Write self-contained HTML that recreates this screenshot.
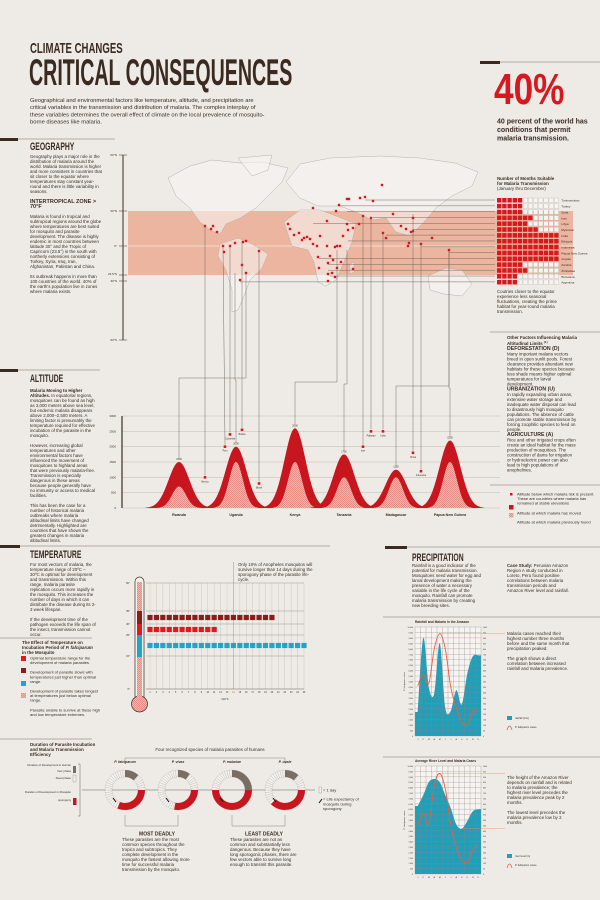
<!DOCTYPE html>
<html><head><meta charset="utf-8">
<style>
html,body{margin:0;padding:0;background:#eeebe7;}
#root{position:relative;width:600px;height:900px;overflow:hidden;background:#eeebe7;font-family:"Liberation Sans",sans-serif;color:#3a2c24;}
.t{position:absolute;font-size:8.8px;line-height:10px;color:#3a2c24;transform:scale(0.5);transform-origin:0 0;z-index:2;}
.t b{font-weight:bold;}
.h{position:absolute;font-family:"Liberation Sans Narrow","Liberation Sans",sans-serif;font-weight:bold;color:#3a2a20;transform-origin:0 0;white-space:nowrap;z-index:2;}
svg{position:absolute;left:0;top:0;}
</style></head>
<body>
<div id="root">
<svg id="svg" width="600" height="900" viewBox="0 0 600 900">
<defs>
<pattern id="hatch" width="2" height="2" patternUnits="userSpaceOnUse"><rect width="2" height="2" fill="#f0b7ac"/><rect width="1" height="1" fill="#e48d83"/><rect x="1" y="1" width="1" height="1" fill="#e48d83"/></pattern>
</defs>
<g fill="#3a2a20" stroke="#7b6a60">
<rect x="480" y="61" width="20" height="3" stroke="none"/><line x1="500" y1="62" x2="600" y2="62" stroke-width="0.6"/>
<rect x="0" y="138" width="18" height="3" stroke="none"/><line x1="18" y1="139" x2="115" y2="139" stroke-width="0.6"/>
<rect x="0" y="369" width="18" height="3" stroke="none"/><line x1="18" y1="370" x2="100" y2="370" stroke-width="0.6"/>
<rect x="0" y="545" width="20" height="3" stroke="none"/><line x1="20" y1="546" x2="330" y2="546" stroke-width="0.6"/>
<rect x="385" y="546" width="22" height="3" stroke="none"/><line x1="407" y1="547" x2="600" y2="547" stroke-width="0.6"/>
<line x1="0" y1="638" x2="92" y2="638" stroke-width="0.6"/>
<line x1="0" y1="739" x2="92" y2="739" stroke-width="0.6"/>
<line x1="490" y1="332" x2="600" y2="332" stroke-width="0.6"/>
<line x1="490" y1="485" x2="600" y2="485" stroke-width="0.6"/>
<line x1="383" y1="617" x2="600" y2="617" stroke-width="0.5"/>
<line x1="383" y1="757" x2="600" y2="757" stroke-width="0.5"/>
</g>
<g id="map">
<rect x="128" y="211" width="445" height="64" fill="#ebb59f"/>
<line x1="128" y1="246" x2="573" y2="246" stroke="#f6dcd0" stroke-width="1"/>
<g fill="#f7f4f1" fill-opacity="0.6" stroke="#b9b0a8" stroke-width="0.5">
<polygon points="168,178 190,166 212,160 240,163 262,162 288,168 282,182 268,196 256,208 240,218 226,224 220,234 210,230 200,222 190,208 176,196"/>
<polygon points="238,158 272,155 268,170 252,176"/>
<polygon points="220,244 238,238 252,244 268,254 262,268 250,280 244,296 238,310 232,312 232,290 226,270 218,256"/>
<polygon points="286,182 300,164 330,158 380,156 420,158 455,163 478,172 472,186 452,196 436,208 424,222 410,236 396,232 386,218 372,220 356,212 340,206 318,206 300,198"/>
<polygon points="284,222 300,210 320,210 336,216 356,224 352,242 344,262 336,280 326,286 318,282 314,262 308,250 292,246"/>
<polygon points="428,276 446,268 462,270 472,284 462,296 444,294 430,290"/>
<polygon points="350,264 354,262 354,272 350,274"/>
</g>
<g stroke="#5a4a40" stroke-width="1.2"><line x1="123" y1="155" x2="123" y2="340"/></g>
<g stroke="#5a4a40" stroke-width="0.6"><line x1="119" y1="155" x2="127" y2="155"/><line x1="119" y1="211" x2="127" y2="211"/><line x1="119" y1="246" x2="127" y2="246"/><line x1="119" y1="275" x2="127" y2="275"/><line x1="119" y1="281" x2="127" y2="281"/><line x1="119" y1="340" x2="127" y2="340"/></g>
<g font-size="3" fill="#3a2c24" text-anchor="end" font-family="Liberation Sans,sans-serif">
<text x="117" y="156">60°N</text><text x="117" y="212">30°N</text><text x="117" y="247">0°</text><text x="117" y="275">23.5°S</text><text x="117" y="282">30°S</text><text x="117" y="341">60°S</text></g>
<g id="leaders" stroke="#6b5d55" stroke-width="0.45" fill="none"></g>
<g id="dots" fill="#d7191f"></g>
<g id="months"></g>
</g>
<g id="alt"></g>
<g id="temp"></g>
<g id="para"></g>
<g id="rain"></g>
<g id="river"></g>
</svg>

<div class="h" style="left:30px;top:40px;font-size:15px;transform:scaleX(0.64);">CLIMATE CHANGES</div>
<div class="h" style="left:29px;top:54px;font-size:37px;line-height:38px;transform:scaleX(0.53);">CRITICAL CONSEQUENCES</div>
<div class="t" style="left:30px;top:97px;width:470px;font-size:11.6px;line-height:14.4px;">Geographical and environmental factors like temperature, altitude, and precipitation are critical variables in the transmission and distribution of malaria. The complex interplay of these variables determines the overall effect of climate on the local prevalence of mosquito-borne diseases like malaria.</div>
<div class="h" style="left:494px;top:66px;font-size:44px;color:#d7191f;line-height:48px;font-family:'Liberation Sans',sans-serif;transform:scaleX(0.8);">40%</div>
<div class="t" style="left:497px;top:117px;width:190px;font-size:14px;line-height:16.8px;font-weight:bold;">40 percent of the world has conditions that permit malaria transmission.</div>

<div class="h" style="left:30px;top:141px;font-size:11px;transform:scaleX(0.62);">GEOGRAPHY</div>
<div class="t" style="left:30px;top:154px;width:144px;">Geography plays a major role in the distribution of malaria around the world. Malaria transmission is higher and more consistent in countries that sit closer to the equator where temperatures stay constant year-round and there is little variability in seasons.<br><br><b style="font-size:11px">INTERTROPICAL ZONE &gt; 70°F</b><br><br>Malaria is found in tropical and subtropical regions around the globe where temperatures are best suited for mosquito and parasite development. The disease is highly endemic in most countries between latitude 30° and the Tropic of Capricorn (23.5°) in the south with northerly extensions consisting of Turkey, Syria, Iraq, Iran, Afghanistan, Pakistan and China.<br><br>Its outbreak happens in more than 100 countries of the world. 40% of the earth's population live in zones where malaria exists.</div>

<div class="t" style="left:497px;top:176px;width:120px;"><b>Number of Months Suitable for Malaria Transmission</b><br>(January thru December)</div>
<div class="t" style="left:497px;top:289px;width:124px;">Coutries closer to the equator experience less seasonal fluctuations, creating the prime habitat for year-round malaria transmission.</div>
<div class="t" style="left:507px;top:335px;width:140px;"><b>Other Factors Influencing Malaria Altitudinal Limits <sup style="font-size:6px">(1)</sup></b><br><b style="font-size:10.4px">DEFORESTATION (D)</b><br>Many important malaria vectors breed in open sunlit pools. Forest clearance provides abundant new habitats for these species because less shade means higher optimal temperatures for larval development.<br><b style="font-size:10.4px">URBANIZATION (U)</b><br>In rapidly expanding urban areas, extensive water storage and inadequate water disposal can lead to disastrously high mosquito populations. The absence of cattle can promote stable transmission by forcing zoophilic species to feed on people.<br><b style="font-size:10.4px">AGRICULTURE (A)</b><br>Rice and other irrigated crops often create an ideal habitat for the mass production of mosquitoes. The construction of dams for irrigation or hydroelectric power can also lead to high populations of anophelines.</div>
<div class="t" style="left:517px;top:492px;width:160px;font-size:8px;line-height:9.2px;">Altitude below which malaria risk is present. These are countries where malaria has remained at stable elevations<br><div style="height:10px"></div>Altitude at which malaria has moved<br><div style="height:9px"></div>Altitude at which malaria previously found</div>

<div class="h" style="left:30px;top:373px;font-size:11px;transform:scaleX(0.62);">ALTITUDE</div>
<div class="t" style="left:30px;top:388px;width:132px;"><b>Malaria Moving to Higher Altitudes.</b> In equatorial regions, mosquitoes can be found as high as 3,000 meters above sea level, but endemic malaria disappears above 2,000–2,500 meters. A limiting factor is presumably the temperature required for effective incubation of the parasite in the mosquito.<br><br>However, increasing global temperatures and other environmental factors have influenced the movement of mosquitoes to highland areas that were previously malaria-free. Transmission is especially dangerous in these areas because people generally have no immunity or access to medical facilities.<br><br>This has been the case for a number of historical malaria outbreaks where malaria altitudinal limits have changed detrimentally. Highlighted are countries that have shown the greatest changes in malaria altitudinal limits.</div>

<div class="h" style="left:30px;top:549px;font-size:11px;transform:scaleX(0.62);">TEMPERATURE</div>
<div class="t" style="left:30px;top:562px;width:132px;">For most vectors of malaria, the temperature range of 20ºC – 30ºC is optimal for development and transmission. Within this range, malaria parasite replication occurs more rapidly in the mosquito. This increases the number of days in which it can distribute the disease during its 2-3 week lifespan.<br><br>If the development time of the pathogen exceeds the life span of the insect, transmission cannot occur.</div>
<div class="t" style="left:22px;top:640px;width:150px;"><b>The Effect of Temperature on Incubation Period of <i>P. falciparum</i> in the Mosquito</b></div>
<div class="t" style="left:30px;top:656px;width:144px;font-size:8px;line-height:9.2px;">Optimal temperature range for the development of malaria parasites.<div style="height:10px"></div>Development of parasite slows with temperatures just higher than optimal range.<div style="height:10px"></div>Development of parasite takes longest at temperatures just below optimal range.<div style="height:10px"></div>Parasite unable to survive at these high and low temperature extremes.</div>
<div class="t" style="left:238px;top:562px;width:164px;">Only 10% of Anopheles mosquitos will survive longer than 14 days during the sporogony phase of the parasite life-cycle.</div>

<div class="t" style="left:30px;top:742px;width:132px;"><b>Duration of Parasite Incubation and Malaria Transmission Efficiency</b></div>
<div class="t" style="left:150px;top:747px;width:240px;text-align:center;">Four recognized species of malaria parasites of humans</div>
<div class="t" style="left:122px;top:832px;width:140px;"><div style="text-align:center;font-weight:bold;font-size:10px">MOST DEADLY</div>These parasites are the most common species throughout the tropics and subtropics. They complete development in the mosquito the fastest allowing more time for successful malaria transmission by the mosquito.</div>
<div class="t" style="left:230px;top:832px;width:136px;"><div style="text-align:center;font-weight:bold;font-size:10px">LEAST DEADLY</div>These parasites are not as common and substantially less dangerous. Because they have long sporogonic phases, there are few vectors able to survive long enough to transmit this parasite.</div>
<div class="t" style="left:323px;top:788px;width:80px;font-size:8px;line-height:9.2px;">= 1 day<br><br>= Life expectancy of mosquito during sporogony</div>

<div class="h" style="left:412px;top:552px;font-size:11px;transform:scaleX(0.62);">PRECIPITATION</div>
<div class="t" style="left:412px;top:563px;width:140px;">Rainfall is a good indicator of the potential for malaria transmission. Mosquitoes need water for egg and larval development making the presence of water a necessary variable in the life cycle of the mosquito. Rainfall can promote malaria transmission by creating new breeding sites.</div>
<div class="t" style="left:507px;top:563px;width:130px;"><b>Case Study:</b> Peruvian Amazon Region A study conducted in Loreto, Peru found positive correlations between malaria transmission periods and Amazon River level and rainfall.</div>
<div class="t" style="left:507px;top:631px;width:132px;">Malaria cases reached their highest number three months before and the same month that precipitation peaked.<br><br>The graph shows a direct correlation between increased rainfall and malaria prevalence.</div>
<div class="t" style="left:507px;top:775px;width:132px;">The height of the Amazon River depends on rainfall and is related to malaria prevalence; the highest river level precedes the malaria prevalence peak by 2 months.<br><br>The lowest level precedes the malaria prevalence low by 2 months.</div>
</div>

<script>
const NS='http://www.w3.org/2000/svg';
function mk(parent,tag,attrs,text){const e=document.createElementNS(NS,tag);for(const k in attrs)e.setAttribute(k,attrs[k]);if(text!==undefined)e.textContent=text;parent.appendChild(e);return e;}

const mapDots=[[205,226],[211,229],[213,226],[217,232],[223,246],[224,252],[230,246],[235,243],[243,242],[246,241],[259,251],[242,265],[246,273],[240,280],[288,224],[290,229],[294,235],[299,233],[302,240],[304,238],[307,237],[310,239],[313,208],[313,244],[317,246],[320,236],[327,221],[327,246],[318,257],[319,268],[328,263],[330,256],[333,260],[335,247],[337,246],[340,246],[343,236],[347,224],[348,230],[353,228],[359,224],[336,211],[339,205],[347,199],[349,199],[360,198],[365,197],[373,201],[382,185],[363,216],[371,218],[383,233],[386,238],[393,214],[401,226],[406,229],[413,218],[411,232],[413,231],[409,243],[408,246],[421,244],[432,238],[449,250],[353,269],[332,273],[337,268],[328,274],[328,281],[335,277],[341,262]];
const countries=['Turkmenistan','Turkey','Syria','Iran','Libya','Myanmar','India','Ethiopia','Indonesia','Papua New Guinea','Angola','Zambia','Zimbabwe','Botswana','Argentina'];
const monthsSuitable=[5,5,5,7,6,8,12,12,12,12,12,5,6,4,4];
const countryDotX=[365,339,347,373,313,413,386,348,421,449,319,328,328,330,240];

const dotsG=document.getElementById('dots');
mapDots.forEach(d=>{const c=mk(dotsG,'rect',{x:d[0]-1.2,y:d[1]-1.2,width:2.4,height:2.4});

});

const leadG=document.getElementById('leaders');
const mG=document.getElementById('months');
const rowY0=198,rowH=5.85,cellX0=497,cellW=5.2;
countries.forEach((c,i)=>{
  const y=rowY0+i*rowH;
  mk(leadG,'line',{x1:countryDotX[i],y1:y+2,x2:495,y2:y+2});
  for(let m=0;m<12;m++){
    const r=mk(mG,'rect',{x:cellX0+m*cellW,y:y,width:cellW-0.8,height:rowH-1.3,fill:m<monthsSuitable[i]?'#d7191f':'#f6f3f0',stroke:m<monthsSuitable[i]?'none':'#b8b0a8','stroke-width':0.3});
    
    
  }
  const t=mk(mG,'text',{x:cellX0+12*cellW+2,y:y+3.7,'font-size':3,fill:'#3a2c24','font-family':'Liberation Sans,sans-serif'},c);
  
  
});

const altCountries=['Rwanda','Uganda','Kenya','Tanzania','Madagascar','Papua New Guinea'];
const altNow=[1500,2000,2600,1750,1250,2200];
const altBefore=[700,1500,1500,1000,1000,1500];
const altTicks=[0,500,1000,1500,2000,2500,3000];
const stableNames=['Mexico','Peru','Colombia','Bolivia','Brazil','Iran','Pakistan','India','China','Indonesia'];
const stableAlt=[1000,2000,2400,2550,800,2000,2500,2500,1800,1200];
const mapSrcX=[205,223,230,242,259,363,371,383,413,421];
const mapSrcY=[226,246,246,241,251,216,218,233,214,244];
const peakSrcX=[246,235,337,347,449,449];

const AX0=122,AX1=500,AY0=508,AY1=416;
const ay=v=>AY0-(v/3000)*(AY0-AY1);
const peakX=[179,236,295,344,396,450];
const stableX=[205,225,230,242,259,363,371,383,413,421];
const altG=document.getElementById('alt');
altTicks.forEach(v=>{
  mk(altG,'line',{x1:AX0,y1:ay(v),x2:AX1,y2:ay(v),stroke:'#b5aca4','stroke-width':0.4});
  mk(altG,'text',{x:AX0-6,y:ay(v)+1,'font-size':3,'text-anchor':'end',fill:'#3a2c24'},v);
});
mk(altG,'line',{x1:AX0,y1:AY1,x2:AX0,y2:AY0,stroke:'#3a2a20','stroke-width':1.2});
function bell(cx,h,sig){let d=`M${cx-3.2*sig},${AY0}`;for(let i=-32;i<=32;i++){const x=cx+i*sig/10;const v=h*Math.exp(-Math.pow(i/10,2)/2);d+=` L${x.toFixed(2)},${ay(v).toFixed(2)}`;}return d+` L${cx+3.2*sig},${AY0} Z`;}
altCountries.forEach((n,i)=>{
  mk(altG,'polyline',{points:`${peakSrcX[i]},${i<2?273:250} ${peakSrcX[i]},${378+i*2} ${peakX[i]},${378+i*2} ${peakX[i]},${ay(altNow[i])-4}`,fill:'none',stroke:'#6b5d55','stroke-width':0.45});
  const p=mk(altG,'path',{d:bell(peakX[i],altNow[i],10.5),fill:'#c8161e'});
  
  
  const q=mk(altG,'path',{d:bell(peakX[i],altBefore[i],7),fill:'url(#hatch)'});
  
  
  mk(altG,'text',{x:peakX[i],y:ay(altNow[i])-2,'font-size':2.5,'text-anchor':'middle',fill:'#3a2c24'},altNow[i]);
  mk(altG,'text',{x:peakX[i],y:AY0+8,'font-size':3.6,'text-anchor':'middle','font-weight':'bold',fill:'#3a2c24'},n);
});
stableNames.forEach((n,i)=>{
  mk(altG,'line',{x1:mapSrcX[i],y1:mapSrcY[i],x2:stableX[i],y2:ay(stableAlt[i])-2,stroke:'#6b5d55','stroke-width':0.45});
  const r=mk(altG,'rect',{x:stableX[i]-1.3,y:ay(stableAlt[i])-1.3,width:2.6,height:2.6,fill:'#d7191f'});
  
  
  mk(altG,'text',{x:stableX[i],y:ay(stableAlt[i])+5,'font-size':2.3,'text-anchor':'middle',fill:'#3a2c24'},n);
});
mk(altG,'rect',{x:510,y:493,width:2.5,height:2.5,fill:'#d7191f'});
mk(altG,'rect',{x:509,y:505,width:4.5,height:4.5,fill:'#c8161e'});
mk(altG,'rect',{x:509,y:513,width:4.5,height:4.5,fill:'url(#hatch)'});

const tempTicks=[0,15,25,30,35,50];
const dayLabels=[1,2,3,4,5,6,7,8,9,10,11,12,13,14,15,16,17,18,19,20,21,22,23,24,25];
const tempRowsTemp=[32.5,27.5,20];
const tempRowsDays=[20,11,25];
const tempRowsColor=['#8e1a1c','#e0191f','#1ea4cf'];
const TY=t=>{const m={0:689,15:656,25:635,30:624,35:611,50:583};return m[t]!==undefined?m[t]:null;};
function ty(t){const ks=[0,15,25,30,35,50];for(let i=0;i<ks.length-1;i++){if(t>=ks[i]&&t<=ks[i+1]){const a=TY(ks[i]),b=TY(ks[i+1]);return a+(b-a)*(t-ks[i])/(ks[i+1]-ks[i]);}}return 689;}
const tx=d=>150+(d-1)*(304-150)/24;
const tG=document.getElementById('temp');
dayLabels.forEach(d=>{mk(tG,'line',{x1:tx(d),y1:583,x2:tx(d),y2:689,stroke:d==14?'#f08a6a':'#c4bcb5','stroke-width':d==14?0.6:0.4});mk(tG,'text',{x:tx(d),y:693,'font-size':2.3,'text-anchor':'middle',fill:d==14?'#e05a3a':'#3a2c24'},d);});
mk(tG,'line',{x1:tx(14),y1:562,x2:tx(14),y2:583,stroke:'#f08a6a','stroke-width':0.6});
tempTicks.forEach(t=>{mk(tG,'line',{x1:146,y1:ty(t),x2:304,y2:ty(t),stroke:t==0?'#6b5d55':'#a0968f','stroke-width':t==0?0.6:0.5});mk(tG,'text',{x:130,y:ty(t)+1,'font-size':2.6,'text-anchor':'end',fill:'#3a2c24'},t+'°');});
mk(tG,'text',{x:225,y:700,'font-size':2.6,'text-anchor':'middle',fill:'#3a2c24'},'DAYS');
tempRowsTemp.forEach((t,r)=>{for(let d=1;d<=tempRowsDays[r];d++){const s=mk(tG,'rect',{x:tx(d)-2.6,y:ty(t)-2.6,width:5.2,height:5.2,fill:tempRowsColor[r]});}});
mk(tG,'rect',{x:135,y:577,width:9,height:126,rx:4.5,fill:'#f3efeb',stroke:'#3a2a20','stroke-width':0.7});
mk(tG,'circle',{cx:139.5,cy:704,r:8,fill:'url(#hatch)',stroke:'#3a2a20','stroke-width':0.7});
mk(tG,'rect',{x:137,y:582,width:5,height:120,fill:'url(#hatch)'});
mk(tG,'rect',{x:137,y:ty(35),width:5,height:ty(30)-ty(35),fill:'#8e1a1c'});
mk(tG,'rect',{x:137,y:ty(30),width:5,height:ty(25)-ty(30),fill:'#e0191f'});
mk(tG,'rect',{x:137,y:ty(25),width:5,height:ty(15)-ty(25)+1,fill:'#1ea4cf'});
[['#e0191f',656],['#8e1a1c',668],['#1ea4cf',681],['url(#hatch)',693]].forEach(a=>mk(tG,'rect',{x:21,y:a[1],width:5,height:5,fill:a[0]}));

const species=['P. falciparum','P. vivax','P. malariae','P. ovale'];
const humanDays=[14,12,30,14];
const mosquitoDays=[10,9,16,12];
const pX=[125,178,232,285],PY=790;
const pG=document.getElementById('para');
mk(pG,'polyline',{points:`125,764 125,758 285,758 285,764`,fill:'none',stroke:'#8a7f78','stroke-width':0.5});
mk(pG,'polyline',{points:`125,815 125,826 178,826 178,815`,fill:'none',stroke:'#8a7f78','stroke-width':0.5});
mk(pG,'polyline',{points:`232,815 232,826 285,826 285,815`,fill:'none',stroke:'#8a7f78','stroke-width':0.5});
mk(pG,'line',{x1:82,y1:PY,x2:315,y2:PY,stroke:'#6b5d55','stroke-width':0.6});
mk(pG,'polyline',{points:`78,764 80,764 80,816 78,816`,fill:'none',stroke:'#6b5d55','stroke-width':0.5});
function arc(cx,cy,r0,r1,a0,a1){const p=(r,a)=>[cx+r*Math.sin(a),cy-r*Math.cos(a)];const L=a1-a0>Math.PI?1:0;const A=p(r1,a0),B=p(r1,a1),C=p(r0,a1),D=p(r0,a0);return `M${A} A${r1},${r1} 0 ${L} 1 ${B} L${C} A${r0},${r0} 0 ${L} 0 ${D} Z`;}
species.forEach((s,i)=>{
  const cx=pX[i];const seg=2*Math.PI/48;
  for(let k=0;k<48;k++)mk(pG,'path',{d:arc(cx,PY,13,20,k*seg,(k+1)*seg),fill:'#f4f1ee',stroke:'#a59c95','stroke-width':0.25});
  const h=mk(pG,'path',{d:arc(cx,PY,13,20,0,Math.PI*humanDays[i]/30*0.5+0.001),fill:'#7a6d64'});
  
  
  const m=mk(pG,'path',{d:arc(cx,PY,13,20,Math.PI/2,Math.PI/2+Math.PI*mosquitoDays[i]/16),fill:'#c8161e'});
  
  
  mk(pG,'line',{x1:cx-12,y1:PY+8,x2:cx-9,y2:PY+12,stroke:'#111','stroke-width':1});
  mk(pG,'text',{x:cx,y:763,'font-size':3.5,'text-anchor':'middle','font-style':'italic','font-weight':'bold',fill:'#3a2c24'},s);
});
[['Duration of Development in Human',766],['liver phase',772],['blood phase',779],['Duration of Development in Mosquito',793],['sporogony',801]].forEach(a=>mk(pG,'text',{x:71,y:a[1],'font-size':2.8,'text-anchor':'end',fill:'#3a2c24'},a[0]));
mk(pG,'rect',{x:73,y:766,width:3,height:7,fill:'#7a6d64'});
mk(pG,'rect',{x:73,y:775,width:3,height:7,fill:'#eee',stroke:'#7a6d64','stroke-width':0.3});
mk(pG,'rect',{x:73,y:798,width:3.5,height:7,fill:'#c8161e'});
mk(pG,'rect',{x:319,y:787,width:2.5,height:6,fill:'#f4f1ee',stroke:'#7a6d64','stroke-width':0.3});
mk(pG,'line',{x1:319,y1:803,x2:322,y2:799,stroke:'#111','stroke-width':1});

const monthLabels=['J','F','M','A','M','J','J','A','S','O','N','D'];
const rainfall=[22,90,45,39,85,26,23,42,29,57,73,74];
const rainCases=[46,57,48,80,94,80,45,26,13,10,22,23];
const riverLevel=[63,73,85,88,85,73,61,46,42,49,58,60];
const riverCases=[45,57,46,82,93,79,46,25,13,11,22,28];
function smooth(pts){let d=`M${pts[0][0]},${pts[0][1]}`;for(let i=0;i<pts.length-1;i++){const p0=pts[i-1]||pts[i],p1=pts[i],p2=pts[i+1],p3=pts[i+2]||p2;const c1=[p1[0]+(p2[0]-p0[0])/6,p1[1]+(p2[1]-p0[1])/6],c2=[p2[0]-(p3[0]-p1[0])/6,p2[1]-(p3[1]-p1[1])/6];d+=` C${c1[0].toFixed(2)},${c1[1].toFixed(2)} ${c2[0].toFixed(2)},${c2[1].toFixed(2)} ${p2[0]},${p2[1]}`;}return d;}
function chart(gid,title,x0,x1,y0,y1,area,line,legendA,name){
  const g=document.getElementById(gid);
  const x=i=>x0+(i+0.5)*(x1-x0)/12,y=v=>y1-(v/100)*(y1-y0);
  mk(g,'rect',{x:x0,y:y0,width:x1-x0,height:y1-y0,fill:'#f6f3f0'});
  const aPts=area.map((v,i)=>[+x(i).toFixed(2),+y(v).toFixed(2)]);
  const ap=mk(g,'path',{d:`M${x0},${y1} L${x0},${aPts[0][1]} L`+smooth(aPts).slice(1)+` L${x1},${aPts[11][1]} L${x1},${y1} Z`,fill:'#1f9fb9'});
  
  
  for(let i=0;i<=12;i++)mk(g,'line',{x1:x0+i*(x1-x0)/12,y1:y0,x2:x0+i*(x1-x0)/12,y2:y1,stroke:'#8f8882','stroke-width':0.3});
  for(let k=0;k<=20;k++){const yy=y0+k*(y1-y0)/20;mk(g,'line',{x1:x0,y1:yy,x2:x1,y2:yy,stroke:'#8f8882','stroke-width':0.3});
    mk(g,'text',{x:x0-2,y:yy+1,'font-size':1.8,'text-anchor':'end',fill:'#3a2c24'},((20-k)*500).toLocaleString('en-US'));
    mk(g,'text',{x:x1+2,y:yy+1,'font-size':1.8,fill:'#3a2c24'},(20-k)*50);}
  const lp=mk(g,'path',{d:smooth(line.map((v,i)=>[+x(i).toFixed(2),+y(v).toFixed(2)])),fill:'none',stroke:'#f25a3c','stroke-width':0.9});
  
  
  monthLabels.forEach((m,i)=>mk(g,'text',{x:x(i),y:y1+4,'font-size':2.2,'text-anchor':'middle',fill:'#3a2c24'},m));
  mk(g,'text',{x:x0,y:y0-4,'font-size':3.3,'font-weight':'bold',fill:'#3a2c24'},title);
  mk(g,'text',{x:x0-10,y:(y0+y1)/2,'font-size':2.2,fill:'#3a2c24',transform:`rotate(-90 ${x0-10} ${(y0+y1)/2})`,'text-anchor':'middle'},'P. falciparum cases');
  const peak=line.indexOf(Math.max(...line));
  mk(g,'line',{x1:x(peak),y1:y(line[peak]),x2:505,y2:y(line[peak]),stroke:'#f08a6a','stroke-width':0.4});
  mk(g,'rect',{x:507,y:y1-20,width:5,height:4,fill:'#1f9fb9'});
  mk(g,'text',{x:515,y:y1-17,'font-size':2.5,fill:'#3a2c24'},legendA);
  mk(g,'path',{d:`M507,${y1-6} Q509.5,${y1-14} 512,${y1-6}`,fill:'none',stroke:'#f25a3c','stroke-width':0.8});
  mk(g,'text',{x:515,y:y1-8,'font-size':2.5,fill:'#3a2c24'},'P. falciparum cases');
}
chart('rain','Rainfall and Malaria in the Amazon',415,481,627,736,rainfall,rainCases,'rainfall (mm)','rainfall');
chart('river','Average River Level and Malaria Cases',415,481,766,874,riverLevel,riverCases,'river level (m)','river');
const lowI=riverLevel.indexOf(Math.min(...riverLevel));
mk(document.getElementById('river'),'line',{x1:415+(lowI+0.5)*66/12,y1:874-riverLevel[lowI]/100*108,x2:505,y2:874-riverLevel[lowI]/100*108,stroke:'#f08a6a','stroke-width':0.4});
</script>
</body></html>
